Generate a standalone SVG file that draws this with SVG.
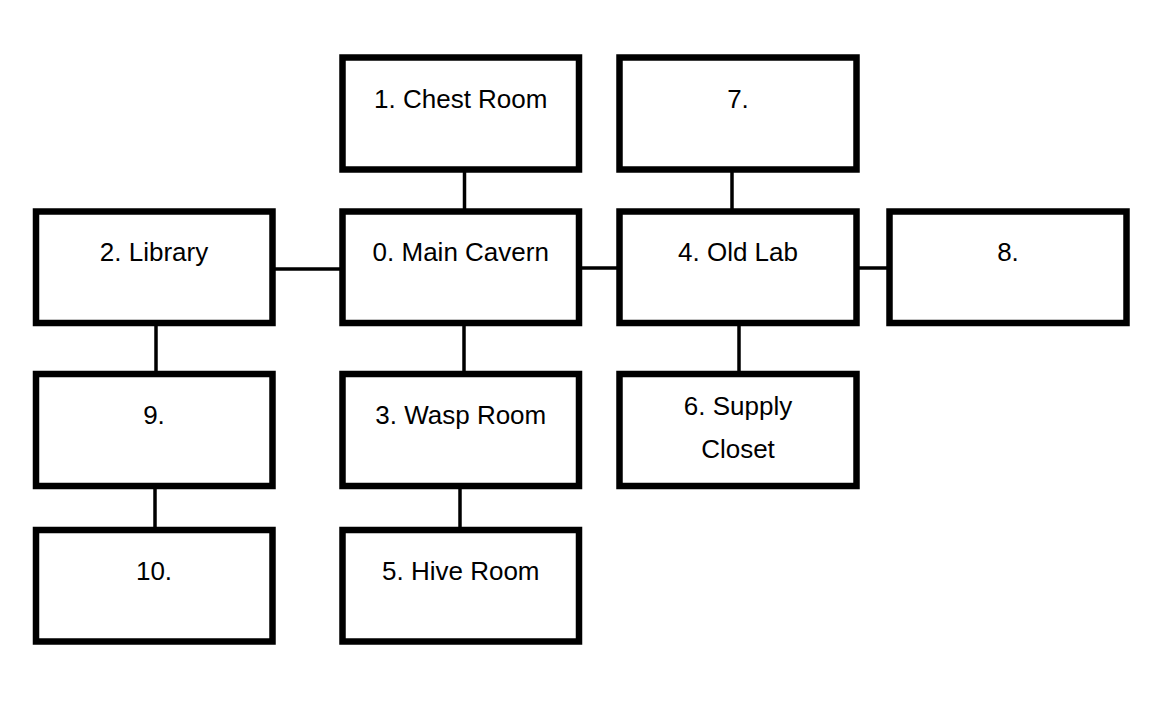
<svg xmlns="http://www.w3.org/2000/svg" width="1163" height="703" viewBox="0 0 1163 703">
<style>
.box{fill:#fff;stroke:#000;stroke-width:6.5}
.lbl{font-family:"Liberation Sans",Arial,sans-serif;font-size:26px;fill:#000;text-anchor:middle}
.con{stroke:#000;stroke-width:3.5;fill:none}
</style>
<rect width="1163" height="703" fill="#fff"/>
<g id="connectors">
<line class="con" x1="464.5" y1="169" x2="464.5" y2="212"/>
<line class="con" x1="732" y1="169" x2="732" y2="212"/>
<line class="con" x1="272" y1="269" x2="343" y2="269"/>
<line class="con" x1="578" y1="268" x2="620" y2="268"/>
<line class="con" x1="856" y1="268" x2="890" y2="268"/>
<line class="con" x1="156" y1="323" x2="156" y2="374"/>
<line class="con" x1="464" y1="323" x2="464" y2="374"/>
<line class="con" x1="739" y1="323" x2="739" y2="374"/>
<line class="con" x1="155" y1="486" x2="155" y2="530"/>
<line class="con" x1="460" y1="486" x2="460" y2="530"/>
</g>
<g id="n1"><rect class="box" x="342.5" y="57.5" width="236.5" height="112"/><text class="lbl" x="460.75" y="108">1. Chest Room</text></g>
<g id="n7"><rect class="box" x="619.5" y="57.5" width="237" height="112"/><text class="lbl" x="738" y="108">7.</text></g>
<g id="n2"><rect class="box" x="36" y="211.5" width="236.5" height="111.5"/><text class="lbl" x="154" y="261">2. Library</text></g>
<g id="n0"><rect class="box" x="342.5" y="211.5" width="236.5" height="111.5"/><text class="lbl" x="460.75" y="261">0. Main Cavern</text></g>
<g id="n4"><rect class="box" x="619.5" y="211.5" width="237" height="111.5"/><text class="lbl" x="738" y="261">4. Old Lab</text></g>
<g id="n8"><rect class="box" x="889.5" y="211.5" width="237" height="111.5"/><text class="lbl" x="1008" y="261">8.</text></g>
<g id="n9"><rect class="box" x="36" y="374" width="236.5" height="112"/><text class="lbl" x="154" y="424">9.</text></g>
<g id="n3"><rect class="box" x="342.5" y="374" width="236.5" height="112"/><text class="lbl" x="460.75" y="424">3. Wasp Room</text></g>
<g id="n6"><rect class="box" x="619.5" y="374" width="237" height="112"/><text class="lbl" x="738" y="415">6. Supply</text><text class="lbl" x="738" y="458">Closet</text></g>
<g id="n10"><rect class="box" x="36" y="530" width="236.5" height="111.5"/><text class="lbl" x="154" y="580">10.</text></g>
<g id="n5"><rect class="box" x="342.5" y="530" width="236.5" height="111.5"/><text class="lbl" x="460.75" y="580">5. Hive Room</text></g>
</svg>
